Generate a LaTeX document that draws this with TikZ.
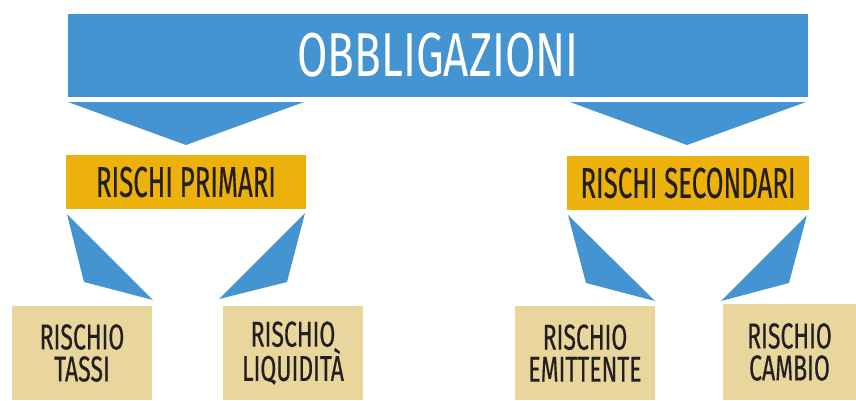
\documentclass[tikz,border=0pt]{standalone}
\usepackage{fontspec}
\usetikzlibrary{calc}
\newfontfamily\titlefont[FakeStretch=0.71]{Fira Sans}
\newfontfamily\midfont[FakeStretch=0.6,FakeBold=0.4]{Fira Sans}
\newfontfamily\leaffont[FakeStretch=0.64,FakeBold=0.4]{Fira Sans}
\definecolor{cblue}{HTML}{4394D0}
\definecolor{cyell}{HTML}{EDB10B}
\definecolor{cbeige}{HTML}{E9D69C}
\definecolor{cdark}{HTML}{231F20}
\begin{document}
\begin{tikzpicture}[x=1pt,y=-1pt,
  box/.style={rectangle,inner sep=0pt,outer sep=0pt,align=center},
  topbox/.style={box,fill=cblue,text=white,minimum width=740pt,minimum height=83pt,
     font=\titlefont\fontsize{62}{62}\selectfont},
  midbox/.style={box,fill=cyell,text=cdark,minimum height=54pt,
     font=\midfont\fontsize{43}{43}\selectfont},
  leafbox/.style={box,fill=cbeige,text=cdark,minimum width=140pt,minimum height=94pt,
     font=\leaffont\fontsize{36}{32}\selectfont},
  conn/.style={fill=cblue}]
\useasboundingbox (0,0) rectangle (856,400);
\node[topbox] (top) at (438,55.5) {OBBLIGAZIONI};
\node[midbox,minimum width=240pt] (prim) at (186,182) {RISCHI PRIMARI};
\node[midbox,minimum width=242pt] (sec) at (688,183) {RISCHI SECONDARI};
\node[leafbox] (tassi) at (82,353) {RISCHIO\\TASSI};
\node[leafbox] (liq) at (293,353) {RISCHIO\\LIQUIDITÀ};
\node[leafbox] (emit) at (585,353) {RISCHIO\\EMITTENTE};
\node[leafbox,minimum width=133pt,minimum height=96pt] (camb) at (789.5,352) {RISCHIO\\CAMBIO};
% top connectors
\fill[conn] ($(top.south west)+(0,5)$) -- ($(top.south west)+(236,5)$) -- ($(prim.north)+(0,-10)$) -- cycle;
\fill[conn] ($(top.south east)+(-238,5)$) -- ($(top.south east)+(-2,5)$) -- ($(sec.north)+(-1,-11)$) -- cycle;
% lower connectors
\fill[conn] ($(prim.south west)+(1,5)$) -- (84,282) -- ($(tassi.north east)+(1,-6)$) -- cycle;
\fill[conn] ($(prim.south east)+(-1,4)$) -- (287,282) -- ($(liq.north west)+(-4,-7)$) -- cycle;
\fill[conn] ($(sec.south west)+(1,5)$) -- (586,283) -- ($(emit.north east)+(0,-5)$) -- cycle;
\fill[conn] ($(sec.south east)+(-2,5)$) -- (789,283) -- ($(camb.north west)+(-2,-3)$) -- cycle;
\end{tikzpicture}
\end{document}
